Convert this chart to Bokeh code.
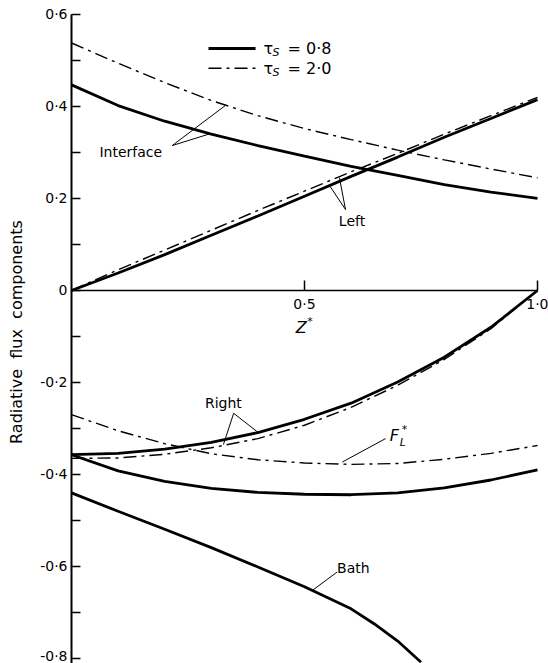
import numpy as np
from bokeh.plotting import figure
from bokeh.models import FixedTicker, CustomJSTickFormatter, Range1d
from bokeh.core.properties import value
from bokeh.embed import file_html
from bokeh.resources import INLINE

# ---- data ----
z = [0.0, 0.1, 0.2, 0.3, 0.4, 0.5, 0.6, 0.7, 0.8, 0.9, 1.0]
interface_08 = [0.447, 0.402, 0.368, 0.340, 0.315, 0.292, 0.270, 0.250, 0.230, 0.214, 0.200]
interface_20 = [0.538, 0.494, 0.452, 0.413, 0.380, 0.352, 0.328, 0.305, 0.284, 0.264, 0.245]
left_08 = [0.0, 0.038, 0.078, 0.120, 0.162, 0.205, 0.248, 0.290, 0.333, 0.374, 0.415]
left_20 = [0.0, 0.045, 0.088, 0.131, 0.174, 0.216, 0.258, 0.298, 0.340, 0.380, 0.420]
right_08 = [-0.357, -0.354, -0.345, -0.330, -0.309, -0.280, -0.245, -0.199, -0.145, -0.080, 0.0]
right_20 = [-0.365, -0.364, -0.356, -0.342, -0.322, -0.293, -0.254, -0.206, -0.150, -0.083, 0.0]
fl_08 = [-0.357, -0.392, -0.415, -0.430, -0.439, -0.443, -0.444, -0.440, -0.429, -0.412, -0.390]
fl_20 = [-0.270, -0.305, -0.333, -0.355, -0.368, -0.375, -0.378, -0.376, -0.367, -0.354, -0.337]
z_bath = [0.0, 0.1, 0.2, 0.3, 0.4, 0.5, 0.6, 0.65, 0.7, 0.75]
bath_08 = [-0.440, -0.480, -0.519, -0.559, -0.601, -0.644, -0.692, -0.725, -0.762, -0.808]

y_major = [-0.8, -0.6, -0.4, -0.2, 0.0, 0.2, 0.4, 0.6]
y_minor = [-0.7, -0.5, -0.3, -0.1, 0.1, 0.3, 0.5]
x_major = [0.5, 1.0]

FONT = value("DejaVu Sans")
SOLID_W = 2.8
DASH_W = 1.4
DASH = "13 5 3 5"

p = figure(width=548, height=663,
           x_range=Range1d(0, 1.0236), y_range=Range1d(-0.8109, 0.6304),
           output_backend="svg", toolbar_location=None,
           min_border_left=71, min_border_right=0, min_border_top=0, min_border_bottom=0)
p.outline_line_color = None
p.grid.visible = False
p.background_fill_color = "white"
p.border_fill_color = "white"

fmt = CustomJSTickFormatter(code="""
if (Math.abs(tick) < 1e-9) { return "0"; }
const s = tick.toFixed(1).replace(".", "\u00b7");
if (Math.abs(tick - 1.0) < 1e-9) { return "\u2800\u2800" + s; }
return s;
""")

# y axis
ya = p.yaxis[0]
ya.ticker = FixedTicker(ticks=y_major, minor_ticks=y_minor)
ya.formatter = fmt
ya.bounds = (-0.812, 0.6)
ya.axis_line_width = 2
ya.axis_line_color = "black"
ya.major_tick_in = 9
ya.major_tick_out = 0
ya.minor_tick_in = 9
ya.minor_tick_out = 0
ya.major_tick_line_width = 1.5
ya.minor_tick_line_width = 1.5
ya.major_tick_line_color = "black"
ya.minor_tick_line_color = "black"
ya.major_label_text_font = "DejaVu Sans"
ya.major_label_text_font_size = "14px"
ya.major_label_text_color = "black"
ya.major_label_standoff = 4
ya.axis_label = "Radiative\u00a0\u00a0flux\u00a0\u00a0components"
ya.axis_label_text_font = "DejaVu Sans"
ya.axis_label_text_font_size = "16px"
ya.axis_label_text_font_style = "normal"
ya.axis_label_text_color = "black"
ya.axis_label_standoff = 11

# x axis through zero
xa = p.xaxis[0]
xa.fixed_location = 0
xa.ticker = FixedTicker(ticks=x_major, minor_ticks=[])
xa.formatter = fmt
xa.bounds = (0, 1.0)
xa.axis_line_width = 1.6
xa.axis_line_color = "black"
xa.major_tick_in = 10
xa.major_tick_out = 0
xa.major_tick_line_width = 1.5
xa.major_tick_line_color = "black"
xa.major_label_text_font = "DejaVu Sans"
xa.major_label_text_font_size = "14px"
xa.major_label_text_color = "black"
xa.major_label_standoff = 6

# ---- curves ----
p.line(z, interface_08, line_width=SOLID_W, color="black")
p.line(z, interface_20, line_width=DASH_W, color="black", line_dash=DASH)
p.line(z, left_08, line_width=SOLID_W, color="black")
p.line(z, left_20, line_width=DASH_W, color="black", line_dash=DASH)
p.line(z, right_08, line_width=SOLID_W, color="black")
p.line(z, right_20, line_width=DASH_W, color="black", line_dash=DASH)
p.line(z, fl_08, line_width=SOLID_W, color="black")
p.line(z, fl_20, line_width=DASH_W, color="black", line_dash=DASH)
p.line(z_bath, bath_08, line_width=SOLID_W, color="black")

# ---- pointer lines ----
px0 = [0.216, 0.216, 0.588, 0.588, 0.348, 0.348, 0.674, 0.517]
py0 = [0.315, 0.315, 0.176, 0.176, -0.267, -0.267, -0.322, -0.652]
px1 = [0.295, 0.330, 0.555, 0.575, 0.326, 0.401, 0.581, 0.570]
py1 = [0.340, 0.402, 0.226, 0.245, -0.335, -0.309, -0.373, -0.612]
p.segment(px0, py0, px1, py1, line_width=1, color="black")

# ---- labels ----
p.text(x=[0.06], y=[0.300], text=["Interface"], text_font=FONT, text_font_size=value("14px"),
       text_baseline="middle", text_align="left", color="black")
p.text(x=[0.602], y=[0.151], text=["Left"], text_font=FONT, text_font_size=value("14px"),
       text_baseline="middle", text_align="center", color="black")
p.text(x=[0.326], y=[-0.245], text=["Right"], text_font=FONT, text_font_size=value("14px"),
       text_baseline="middle", text_align="center", color="black")
p.text(x=[0.570], y=[-0.603], text=["Bath"], text_font=FONT, text_font_size=value("14px"),
       text_baseline="middle", text_align="left", color="black")

# F_L*
p.text(x=[0.683], y=[-0.316], text=["F"], text_font=FONT, text_font_size=value("16px"),
       text_font_style="italic", text_baseline="middle", text_align="left", color="black")
p.text(x=[0.683], y=[-0.316], text=["L"], text_font=FONT, text_font_size=value("11px"),
       text_font_style="italic", text_baseline="middle", text_align="left", color="black",
       x_offset=10, y_offset=7)
p.text(x=[0.683], y=[-0.316], text=["*"], text_font=FONT, text_font_size=value("11px"),
       text_baseline="middle", text_align="left", color="black",
       x_offset=12, y_offset=-6)

# Z*
p.text(x=[0.493], y=[-0.080], text=["Z"], text_font=FONT, text_font_size=value("16px"),
       text_font_style="italic", text_baseline="middle", text_align="center", color="black")
p.text(x=[0.493], y=[-0.080], text=["*"], text_font=FONT, text_font_size=value("11px"),
       text_baseline="middle", text_align="left", color="black",
       x_offset=6, y_offset=-6)

# ---- legend ----
leg_y = [0.526, 0.483]
p.segment([0.294], [leg_y[0]], [0.395], [leg_y[0]], line_width=SOLID_W, color="black")
p.segment([0.294], [leg_y[1]], [0.395], [leg_y[1]], line_width=DASH_W, color="black", line_dash=DASH)
for yy, lab in zip(leg_y, ["= 0\u00b78", "= 2\u00b70"]):
    p.text(x=[0.412], y=[yy], text=["\u03c4"], text_font=FONT, text_font_size=value("16px"),
           text_baseline="middle", text_align="left", color="black")
    p.text(x=[0.412], y=[yy], text=["S"], text_font=FONT, text_font_size=value("11px"),
           text_font_style="italic", text_baseline="middle", text_align="left", color="black",
           x_offset=9, y_offset=4)
    p.text(x=[0.412], y=[yy], text=[lab], text_font=FONT, text_font_size=value("16px"),
           text_baseline="middle", text_align="left", color="black", x_offset=24)

open("out.html", "w").write(file_html(p, INLINE))
